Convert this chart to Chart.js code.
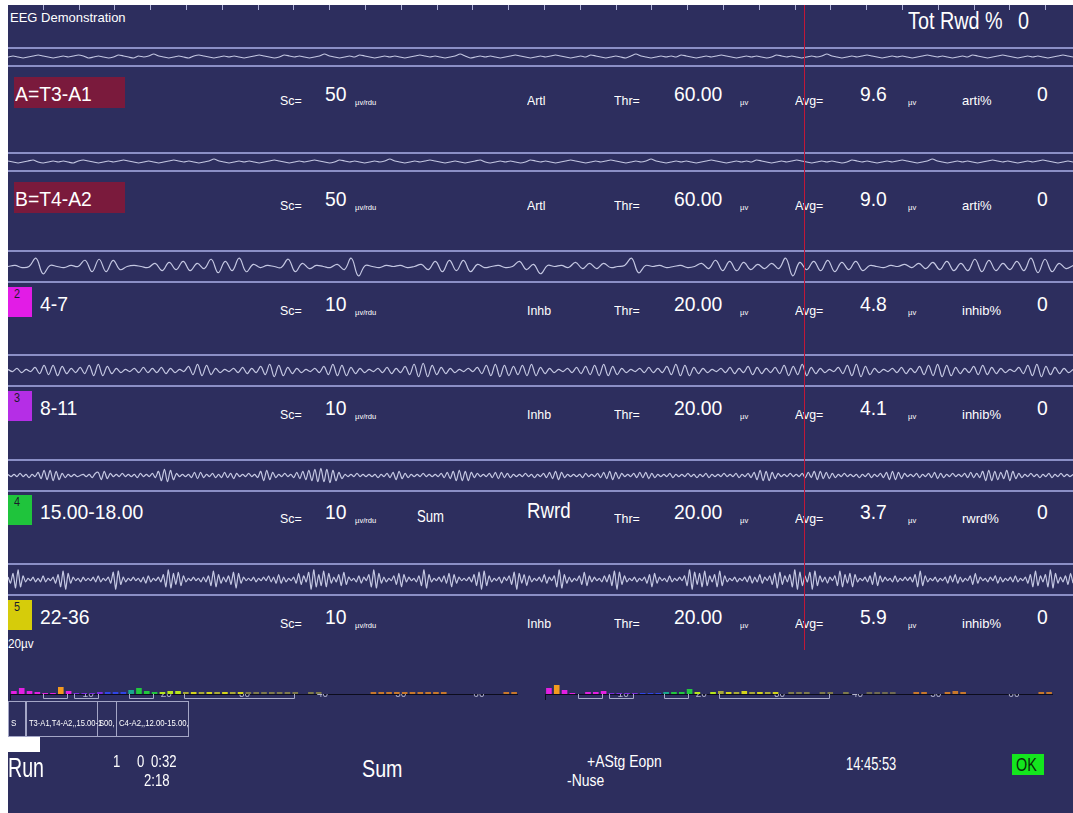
<!DOCTYPE html>
<html>
<head>
<meta charset="utf-8">
<script src="https://cdn.jsdelivr.net/npm/chart.js@4.4.0/dist/chart.umd.min.js"></script>
<style>
html, body { margin: 0; padding: 0; background: #fff; width: 1073px; height: 813px; overflow: hidden; }
#screen { position: absolute; left: 8px; top: 5px; width: 1065px; height: 808px; background: #2d2e5e; }
.t { position: absolute; white-space: nowrap; color: #fff; font-family: "Liberation Sans", Arial, sans-serif; line-height: 1; transform-origin: 0 0; }
.bx { position: absolute; box-sizing: border-box; }
canvas { position: absolute; }
</style>
</head>
<body>
<div id="screen"></div>
<script>
// Raw channels (A, B) - small noisy traces
const traceRaw1 = [
    0,1,0,-1,0,1,2,1,0,-1,0,1,0,1,2,1,-1,0,1,0,
    -1,0,2,1,0,-1,1,0,1,3,1,0,-1,0,1,0,-1,1,2,1,
    0,-1,0,1,0,1,0,-1,0,1,2,1,0,-1,0,2,1,0,1,0,
    -1,0,1,3,1,0,-1,0,1,0,2,1,0,-1,0,1,0,1,0,-1,
    0,1,2,1,0,1,0,-1,0,1,3,1,-1,0,1,0,1,0,-1,0,
    1,2,1,0,-1,0,1,0,1,2,1,0,-1,0,1,0,2,1,0,-1,
    0,1,0,-1,1,3,1,0,-1,0,1,0,1,0,2,1,0,-1,0,1,
    0,1,2,1,0,-1,0,1,0,1,0,-1,0,2,1,0,1,0,-1,0,
    1,0,1,3,1,0,-1,0,1,0,1,2,1,0,-1,0,1,0,1,0,
    -1,0,1,2,1,0,1,0,-1,0,1,0,2,1,0,-1,0,1,2,1,
    0,-1,0,1,0,1,0,-1,0,1,2,1,0
];
const traceRaw2 = [
    1,0,-1,0,1,2,0,-1,0,1,0,1,0,-1,1,2,1,0,-1,0,
    1,0,1,2,1,0,-1,0,1,0,-1,0,1,2,1,0,1,0,-1,0,
    1,3,1,0,-1,0,1,0,1,0,-1,0,1,2,1,0,-1,0,1,0,
    1,2,1,0,-1,0,2,1,0,1,0,-1,0,1,0,1,3,1,0,-1,
    0,1,0,1,2,1,0,-1,0,1,0,-1,0,1,2,0,-1,0,1,0,
    1,0,-1,0,2,1,0,1,0,-1,0,1,2,1,0,-1,0,1,0,1,
    2,1,0,-1,0,1,0,1,3,1,0,-1,0,1,0,1,0,-1,0,1,
    2,1,0,-1,0,1,0,1,0,2,1,0,-1,0,1,0,1,2,1,0,
    -1,0,1,0,1,0,-1,0,2,1,0,1,0,-1,0,1,0,1,2,1,
    0,-1,0,1,3,1,0,-1,0,1,0,1,0,-1,0,1,2,1,0,1,
    0,-1,0,1,0,1,2,1,0,-1,0,1,0
];
// 4-7 Hz
const traceTheta = [
    0,1,-1,0,8,-7,1,0,-1,1,
    0,6,-5,7,-5,6,-3,0,1,0,
    -1,3,-4,4,-3,5,-4,3,-2,7,
    -6,5,-4,8,-5,2,-1,1,0,-1,
    7,-5,3,-2,1,0,-1,2,-3,8,
    -9,1,0,-1,1,0,1,-1,0,2,
    -3,5,-5,6,-4,6,-5,2,-1,0,
    1,-1,0,5,-3,2,-7,1,0,1,
    -1,4,-2,3,-2,3,-1,0,1,8,
    -6,1,0,1,-1,0,1,-1,0,3,
    -2,6,-4,5,-4,4,-3,2,-2,3,
    -2,8,-9,4,-3,5,-4,6,-5,4,
    -3,5,-4,1,0,-1,1,0,2,-1,
    3,-2,4,-3,5,-4,3,-4,7,-5,
    6,-4,3,-3,5,-4,8,-6,7,-5,
    3,-2,1
];
// 8-11 Hz
const traceAlpha = [
    1,-1,2,-2,1,-1,3,-3,5,-4,5,-5,4,-3,2,-2,3,-3,5,-5,
    6,-5,4,-3,2,-2,1,-1,2,-2,3,-2,2,-2,3,-3,2,-2,1,-1,
    4,-4,6,-5,5,-4,2,-2,1,-1,2,-2,3,-3,2,-2,4,-4,6,-6,
    5,-5,3,-3,2,-2,1,-1,2,-2,4,-4,6,-5,5,-5,3,-3,2,-2,
    1,-1,2,-2,3,-3,2,-2,4,-4,6,-6,7,-6,5,-4,3,-3,2,-2,
    1,-1,2,-1,3,-3,5,-5,6,-6,5,-5,4,-4,5,-5,6,-5,3,-3,
    2,-2,1,-1,2,-2,3,-3,4,-4,5,-5,6,-5,4,-4,2,-2,1,-1,
    2,-2,3,-2,2,-2,4,-4,6,-5,5,-5,3,-3,2,-2,1,-1,2,-2,
    3,-3,2,-2,4,-4,3,-3,2,-2,3,-3,5,-5,4,-4,6,-5,3,-3,
    2,-2,1,-1,3,-3,5,-5,6,-6,4,-4,2,-2,1,-1,2,-2,3,-3,
    2,-2,4,-4,5,-5,6,-6,5,-5,3,-3,2,-2,4,-4,5,-4,3,-3,
    2,-2,1,-1,3,-3,5,-5,6,-6,4,-4,3,-3,2,-2,1
];
// 15-18 Hz
const traceBeta = [
    1,-1,1,-1,2,-1,1,-2,1,-1,3,-3,5,-4,5,-5,4,-4,2,-2,1,-1,1,-1,0,1,-1,1,-2,2,
    3,-4,4,-3,2,-1,1,-1,2,-1,1,-1,1,-2,2,-1,1,-1,2,-2,4,-5,6,-6,5,-4,2,-1,1,-1,
    1,-2,3,-3,3,-2,1,-1,2,-2,1,-2,3,-2,2,-3,2,-1,1,-1,2,-1,1,-2,4,-5,5,-4,3,-2,
    1,-1,2,-1,1,-2,3,-3,4,-4,5,-5,6,-6,7,-6,6,-7,5,-5,3,-3,1,-1,1,-1,2,-1,1,-1,
    1,-1,1,-2,1,-1,2,-2,3,-4,4,-3,2,-2,1,-1,1,-1,2,-1,1,-1,1,-1,2,-2,3,-3,4,-5,
    5,-5,4,-5,3,-2,2,-1,1,-1,2,-2,3,-3,3,-2,2,-2,1,-1,1,-1,2,-1,1,-2,1,-1,2,-2,
    3,-3,4,-4,3,-2,1,-1,1,-1,1,-2,2,-1,1,-1,2,-2,3,-3,4,-4,3,-3,2,-1,1,-1,2,-2,
    3,-2,3,-3,2,-2,1,-1,1,-1,2,-2,1,-1,1,-1,2,-1,1,-2,1,-1,2,-2,1,-1,1,-1,2,-1,
    1,-1,2,-2,1,-1,2,-2,3,-4,5,-5,4,-5,3,-3,2,-1,1,-1,2,-1,1,-1,2,-2,3,-2,4,-4,
    4,-3,3,-3,2,-2,1,-1,2,-1,1,-1,1,-2,1,-1,2,-2,1,-1,2,-2,3,-4,4,-4,3,-3,2,-1,
    1,-1,2,-2,1,-1,2,-2,3,-3,2,-2,1,-1,2,-1,1,-1,2,-2,3,-2,2,-2,4,-5,5,-5,4,-4,
    3,-3,5,-5,4,-3,2,-2,1,-1,2,-1,1,-2,1,-1,2,-2,1,-1,2,-1,1,-1,1
];
// 22-36 Hz
const traceHighBeta = [
    2,-3,5,-7,8,-6,3,-2,1,-1,2,-2,1,-2,3,-2,1,-1,2,-3,4,-6,7,-8,5,-3,2,-1,1,-2,2,-1,1,-1,2,-2,3,-2,1,-1,
    2,-3,6,-8,7,-4,2,-2,1,-1,2,-1,1,-2,2,-3,3,-2,1,-1,2,-2,4,-6,8,-7,5,-4,6,-5,3,-2,1,-1,2,-1,1,-2,2,-2,
    3,-5,7,-6,4,-3,2,-2,3,-4,6,-7,5,-3,2,-1,1,-1,2,-2,1,-1,2,-1,3,-2,2,-3,4,-3,2,-2,1,-1,2,-3,5,-4,3,-2,
    6,-8,8,-6,4,-5,7,-6,5,-3,2,-2,4,-5,6,-4,2,-1,1,-2,3,-3,2,-1,4,-6,8,-7,5,-3,2,-2,1,-1,3,-4,5,-6,4,-2,
    2,-1,1,-2,3,-5,8,-7,4,-2,1,-1,2,-2,3,-3,5,-6,4,-3,2,-1,1,-1,2,-2,4,-5,6,-8,7,-5,3,-2,1,-1,2,-3,2,-1,
    3,-4,6,-8,5,-3,4,-5,3,-2,1,-1,2,-2,4,-3,2,-1,3,-6,8,-7,4,-3,2,-2,1,-1,3,-4,6,-5,3,-2,2,-1,1,-2,3,-2,
    4,-5,7,-8,6,-4,3,-2,1,-1,2,-2,1,-1,2,-3,4,-6,5,-3,2,-1,1,-2,3,-2,1,-1,2,-1,3,-5,8,-8,6,-4,5,-6,7,-5,
    3,-2,4,-6,7,-5,3,-2,1,-1,2,-2,1,-1,2,-2,3,-3,2,-2,4,-3,2,-1,3,-4,5,-7,6,-4,3,-2,4,-6,8,-8,6,-5,3,-2,
    6,-8,7,-5,3,-2,2,-3,2,-1,3,-5,7,-6,4,-3,5,-6,4,-2,1,-1,2,-2,3,-4,6,-5,3,-2,2,-1,1,-2,3,-2,1,-1,2,-1,
    2,-2,4,-6,7,-5,3,-2,1,-1,2,-2,1,-1,2,-3,3,-2,4,-3,2,-2,1,-1,3,-4,5,-3,2,-1,1,-2,2,-1,3,-3,2,-2,1,-1,
    2,-2,3,-2,1,-1,2,-3,4,-6,7,-5,3,-2,4,-6,8,-7,5,-3,2,-2,3,-4,5,-3
];

// Channel panel values
const channelNames = ['A=T3-A1', 'B=T4-A2', '4-7', '8-11', '15.00-18.00', '22-36'];
const channelIds = ['', '', '2', '3', '4', '5'];
const channelScales = ['50', '50', '10', '10', '10', '10'];
const channelModes = ['Artl', 'Artl', 'Inhb', 'Inhb', 'Rwrd', 'Inhb'];
const thresholds = ['60.00', '60.00', '20.00', '20.00', '20.00', '20.00'];
const averages = ['9.6', '9.0', '4.8', '4.1', '3.7', '5.9'];
const pctNames = ['arti%', 'arti%', 'inhib%', 'inhib%', 'rwrd%', 'inhib%'];
const pctValues = ['0', '0', '0', '0', '0', '0'];

// Spectra (1 Hz bins)
const specBins = [0,1,2,3,4,5,6,7,8,9,10,11,12,13,14,15,16,17,18,19,20,21,22,23,24,25,26,27,28,29,30,31,32,
    33,34,35,36,37,38,39,40,41,42,43,44,45,46,47,48,49,50,51,52,53,54,55,56,57,58,59,60,61,62,63,64];
const leftSpectrum = [3,6,3,2,1,1,7,3,1,1, 1,2,2,2,2,4,6,3,2,2, 3,3,2,2,2,2,2,2,2,2,
    2,2,2,2,2,2,2,0,2,2, 0,0,0,0,0,0,2,2,2,2, 2,2,2,2,2,2,0,0,0,0, 0,0,0,2,2];
const rightSpectrum = [6,9,4,1,0,2,2,3,1,1, 1,1,1,1,1,2,2,2,5,2, 0,2,3,2,2,3,2,2,2,2,
    0,2,2,2,0,2,2,0,2,0, 0,2,2,2,2,0,0,2,2,0, 0,2,3,2,0,0,0,0,0,0, 0,0,0,2,2];
const specTicks = [10, 20, 30, 40, 50, 60];
const specBands = [[4, 7], [8, 11], [15, 18], [22, 36]];

// ---- layout helpers ----
function txt(s, x, base, size, sx, color, family) {
    const d = document.createElement('div');
    d.className = 't';
    d.textContent = s;
    d.style.left = x + 'px';
    d.style.top = (base - 0.847 * size) + 'px';
    d.style.fontSize = size + 'px';
    if (sx) d.style.transform = 'scaleX(' + sx + ')';
    if (color) d.style.color = color;
    if (family) d.style.fontFamily = family;
    document.body.appendChild(d);
    return d;
}
function box(x, y, w, h, css) {
    const d = document.createElement('div');
    d.className = 'bx';
    d.style.cssText += `left:${x}px;top:${y}px;width:${w}px;height:${h}px;` + (css || '');
    document.body.appendChild(d);
    return d;
}
function makeCanvas(x, y, w, h) {
    const c = document.createElement('canvas');
    c.width = w; c.height = h;
    c.style.cssText = `left:${x}px;top:${y}px;width:${w}px;height:${h}px;`;
    document.body.appendChild(c);
    return c;
}

// ---- EEG traces ----
function traceChart(values, top, height, range, tension) {
    new Chart(makeCanvas(8, top, 1065, height), {
        type: 'line',
        data: {
            datasets: [{
                data: values.map((v, i) => ({ x: i, y: v })),
                borderColor: '#c4c7e2',
                borderWidth: 1.2,
                pointRadius: 0,
                tension: tension,
                fill: false
            }]
        },
        options: {
            responsive: false,
            animation: false,
            devicePixelRatio: 1,
            layout: { padding: 0 },
            plugins: { legend: { display: false }, tooltip: { enabled: false } },
            scales: {
                x: { type: 'linear', display: false, min: 0, max: values.length - 1 },
                y: { display: false, min: -range, max: range }
            }
        }
    });
}

// band separator lines
[[47, 65], [152, 170], [250, 281], [354, 385], [459, 490], [563, 594]].forEach(([a, b]) => {
    box(8, a, 1065, 2, 'background:#8b8fc6;');
    box(8, b, 1065, 2, 'background:#8b8fc6;');
});

traceChart(traceRaw1, 49, 16, 8, 0.2);
traceChart(traceRaw2, 154, 16, 8, 0.2);
traceChart(traceTheta, 252, 29, 14, 0.4);
traceChart(traceAlpha, 356, 29, 14, 0.35);
traceChart(traceBeta, 461, 29, 14, 0.3);
traceChart(traceHighBeta, 565, 29, 12, 0.2);

// time ticks along the top
box(8, 5, 1065, 5, 'background:repeating-linear-gradient(to right, transparent 0 34.8px, #aeb1d6 34.8px 35.8px);');

txt('EEG Demonstration', 10, 22, 13, 1);
txt('Tot Rwd %', 908, 29, 23, 0.86);
txt('0', 1018, 29, 23, 0.86);

// ---- channel rows ----
const boxTops = [77, 182, 287, 391, 495, 600];
const idColors = { '2': '#e21ce6', '3': '#b52ee6', '4': '#1fc43c', '5': '#d6cc0a' };
channelNames.forEach((name, i) => {
    const top = boxTops[i];
    const base = top + 24;     // large values
    const sb = top + 28;       // small labels
    if (channelIds[i]) {
        box(8, top, 24, 30, 'background:' + idColors[channelIds[i]] + ';');
        txt(channelIds[i], 14, top + 11, 12, 0.9, '#1c1c2c');
        txt(name, 40, base, 21, 0.92);
    } else {
        box(14, top, 111, 31, 'background:#7a1a3c;');
        txt(name, 15, top + 24, 21, 0.92);
    }
    txt('Sc=', 280, sb, 13, 0.95);
    txt(channelScales[i], 325, base, 21, 0.92);
    txt('\u00b5v/rdu', 355, sb + 1, 8, 0.95);
    if (channelModes[i] === 'Rwrd') {
        txt('Sum', 417, sb, 16, 0.82);
        txt(channelModes[i], 527, base, 22, 0.85);
    } else {
        txt(channelModes[i], 527, sb, 13, 0.95);
    }
    txt('Thr=', 614, sb, 13, 0.95);
    txt(thresholds[i], 674, base, 21, 0.92);
    txt('\u00b5v', 740, sb + 1, 8, 0.95);
    txt('Avg=', 795, sb, 13, 0.95);
    txt(averages[i], 860, base, 21, 0.92);
    txt('\u00b5v', 908, sb + 1, 8, 0.95);
    txt(pctNames[i], 962, sb, 13, 1.0);
    txt(pctValues[i], 1037, base, 21, 0.92);
});
txt('20\u00b5v', 8, 648, 13, 0.9);

// cursor line
box(804, 5, 1, 645, 'background:#c01838;');

// ---- spectra ----
function binColor(b) {
    if (b < 8) return '#e21fe2';
    if (b < 12) return '#7b2de0';
    if (b < 15) return '#2f45e6';
    if (b < 16) return '#18a88e';
    if (b < 19) return '#21c83e';
    if (b < 22) return '#b6e61c';
    if (b < 30) return b % 2 ? '#d4d41c' : '#a8a838';
    if (b < 40) return '#7e7a4c';
    if (b < 46) return '#6f6a52';
    return '#c7772c';
}
const bandBrackets = {
    id: 'bandBrackets',
    afterDraw(chart) {
        const ctx = chart.ctx, xs = chart.scales.x, y0 = chart.chartArea.bottom;
        ctx.save();
        ctx.lineWidth = 1;
        ctx.strokeStyle = '#a9abc9';
        specBands.forEach(([lo, hi]) => {
            const a = Math.round(xs.getPixelForValue(lo + 0.2)) + 0.5;
            const b = Math.round(xs.getPixelForValue(hi + 0.3)) + 0.5;
            ctx.beginPath();
            ctx.moveTo(a, y0); ctx.lineTo(a, y0 + 4.5); ctx.lineTo(b, y0 + 4.5); ctx.lineTo(b, y0);
            ctx.stroke();
        });
        ctx.strokeStyle = '#0c0c1c';
        const z = Math.round(xs.getPixelForValue(0)) + 0.5;
        ctx.beginPath(); ctx.moveTo(z, y0); ctx.lineTo(z, y0 + 6); ctx.stroke();
        ctx.restore();
    }
};
function spectrumChart(heights, peakBin, left) {
    new Chart(makeCanvas(left, 674, 508, 32), {
        type: 'bar',
        data: {
            datasets: [{
                data: specBins.map((b, i) => ({ x: b + 0.5, y: heights[i] })),
                backgroundColor: specBins.map(b => b === peakBin ? '#f39a1e' : binColor(b)),
                barPercentage: 0.9,
                categoryPercentage: 0.8
            }]
        },
        options: {
            responsive: false,
            animation: false,
            devicePixelRatio: 1,
            layout: { padding: 0 },
            plugins: { legend: { display: false }, tooltip: { enabled: false } },
            scales: {
                x: {
                    type: 'linear', min: 0, max: 65, offset: false,
                    grid: { display: false, drawTicks: false },
                    border: { display: true, color: '#0c0c1c', width: 1 },
                    ticks: {
                        stepSize: 10, autoSkip: false, maxRotation: 0, padding: -6,
                        color: '#b4b4cc', font: { size: 10, family: 'Liberation Sans Narrow, Liberation Sans' },
                        callback: v => specTicks.includes(v) ? String(v) : ''
                    },
                    afterFit: s => { s.height = 12; }
                },
                y: { display: false, min: 0, max: 20 }
            }
        },
        plugins: [bandBrackets]
    });
}
spectrumChart(leftSpectrum, 6, 10);
spectrumChart(rightSpectrum, 1, 545);

// montage boxes
const boxCss = 'border:1px solid #a4a6c6;';
box(8, 701, 18, 36, boxCss);
box(26, 701, 72, 36, boxCss);
box(97, 701, 20, 36, boxCss);
box(116, 701, 73, 36, boxCss);
const nf = '"Liberation Sans Narrow", "Liberation Sans", sans-serif';
txt('S', 11, 727, 9, 0.9, '#fff', nf);
txt('T3-A1,T4-A2,,15.00-1', 29, 727, 9, 0.84, '#fff', nf);
txt('S00,', 99, 727, 9, 0.84, '#fff', nf);
txt('C4-A2,,12.00-15.00,', 119, 727, 9, 0.86, '#fff', nf);
box(8, 737, 32, 15, 'background:#fff;');

// ---- status line ----
txt('Run', 8, 778, 28, 0.7);
txt('1', 113, 768, 16, 0.82);
txt('0', 137, 768, 16, 0.82);
txt('0:32', 151, 768, 16, 0.82);
txt('2:18', 144, 787, 16, 0.82);
txt('Sum', 362, 777, 24, 0.82);
txt('+AStg Eopn', 587, 767, 17, 0.82);
txt('-Nuse', 567, 786, 17, 0.82);
txt('14:45:53', 846, 770, 19, 0.68);
box(1012, 754, 32, 21, 'background:#14e61e;');
txt('OK', 1016, 771, 18, 0.8, '#0a2a0a');
</script>
</body>
</html>
